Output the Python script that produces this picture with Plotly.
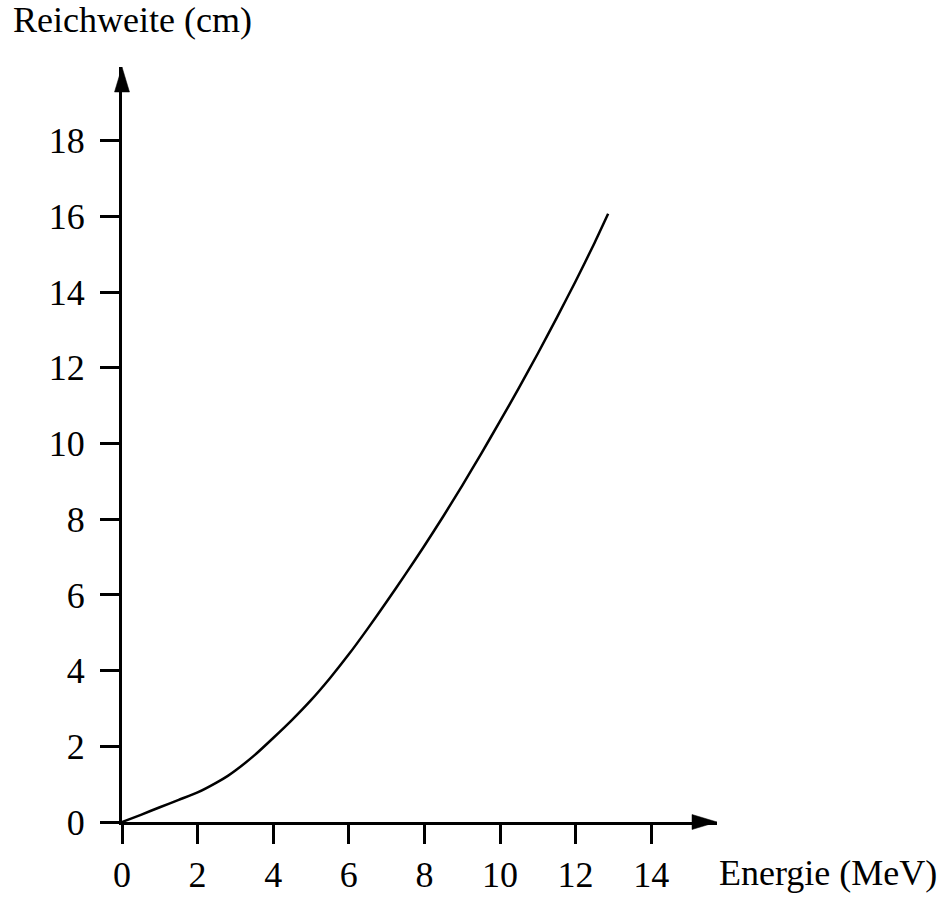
import plotly.graph_objects as go

# Data
energy_mev = [0, 0.5, 1, 1.5, 2, 2.5, 2.8, 3, 3.5, 4, 4.5, 5, 5.5, 6, 6.5, 7, 7.5,
              8, 8.5, 9, 9.5, 10, 10.5, 11, 11.5, 12, 12.5, 12.86]
range_cm = [0, 0.19, 0.39, 0.585, 0.78, 1.04, 1.22, 1.36, 1.76, 2.22, 2.70, 3.22, 3.80,
            4.43, 5.11, 5.82, 6.55, 7.30, 8.08, 8.89, 9.73, 10.59, 11.47, 12.38, 13.32,
            14.29, 15.30, 16.07]

x_ticks = [0, 2, 4, 6, 8, 10, 12, 14]
y_ticks = [0, 2, 4, 6, 8, 10, 12, 14, 16, 18]
x_title = "Energie (MeV)"
y_title = "Reichweite (cm)"

X_MAX = 15.74
Y_MAX = 19.95

FONT = "Liberation Serif, Times New Roman, serif"

fig = go.Figure()
fig.add_trace(go.Scatter(
    x=energy_mev, y=range_cm, mode="lines",
    line=dict(color="black", width=2.5, shape="spline", smoothing=0.5),
    hoverinfo="skip", showlegend=False,
))

axis_common = dict(
    showgrid=False, zeroline=False, showline=True, linecolor="black", linewidth=3,
    ticks="outside", ticklen=19, tickwidth=2.5, tickcolor="black", automargin=False,
    tickfont=dict(family=FONT, size=36, color="black"),
)

fig.update_layout(
    width=943, height=897,
    margin=dict(l=122, r=226, t=67, b=75, pad=0),
    paper_bgcolor="white", plot_bgcolor="white",
    xaxis=dict(range=[0, X_MAX], tickvals=x_ticks, ticktext=[str(v) for v in x_ticks],
               ticklabelstandoff=0, **axis_common),
    yaxis=dict(range=[0, Y_MAX], tickvals=y_ticks, ticktext=[str(v) for v in y_ticks],
               ticklabelstandoff=8, **axis_common),
    font=dict(family=FONT, size=36, color="black"),
)

# Arrowheads at the ends of the axes (pixel-sized, anchored at axis ends)
fig.add_shape(type="path", xref="paper", yref="paper", xsizemode="pixel", ysizemode="pixel",
              xanchor=1, yanchor=0, path="M0,0 L-25,7.5 L-25,-7.5 Z",
              fillcolor="black", line=dict(color="black", width=0.5))
fig.add_shape(type="path", xref="paper", yref="paper", xsizemode="pixel", ysizemode="pixel",
              xanchor=0, yanchor=1, path="M0,0 L-7.5,-25 L7.5,-25 Z",
              fillcolor="black", line=dict(color="black", width=0.5))

fig.add_annotation(text=x_title, xref="paper", yref="paper", x=1.0, y=-0.0676,
                   xanchor="left", yanchor="middle", showarrow=False,
                   font=dict(family=FONT, size=36, color="black"))
fig.add_annotation(text=y_title, xref="paper", yref="paper", x=-0.186, y=1.062,
                   xanchor="left", yanchor="middle", showarrow=False,
                   font=dict(family=FONT, size=36, color="black"))

fig.write_html("out.html")
